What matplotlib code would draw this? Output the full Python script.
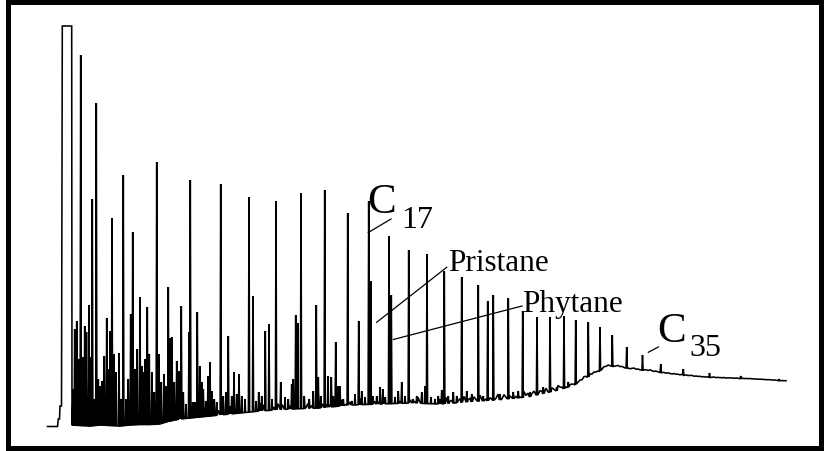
import numpy as np
import matplotlib
matplotlib.use("Agg")
import matplotlib.pyplot as plt
from matplotlib.patches import Rectangle

# ---------------- data (retention time in min, abundance in arbitrary units) ----------------
# solvent front (off-scale, flat-topped)
solvent_rt = [4.75, 5.75, 5.83, 5.95, 6.00, 6.15, 6.23, 7.17, 7.20]
solvent_ab = [0.5, 0.5, 8, 8, 21, 21, 401, 401, 5]

# baseline / unresolved hump
base_rt = [7.22, 8.0, 9.0, 10.0, 11.0, 12.0, 13.0, 14.0, 15.0, 16.0, 17.0, 18.0, 20.0, 23.0,
           26.0, 29.0, 32.0, 35.0, 38.0, 41.0, 44.0, 47.0, 50.0, 53.0, 56.0, 57.5, 59.0, 60.0,
           60.7, 62.0, 63.0, 65.0, 67.0, 69.0, 70.0, 72.0, 75.0, 78.5]
base_ab = [2, 1.5, 1, 2, 1.5, 1, 2, 2.5, 2.5, 3, 6, 8, 10, 13,
           16, 18, 19, 22, 23, 24, 23, 25, 27, 30, 37, 42, 51, 56,
           61, 60, 58, 56, 53, 51, 50, 49, 48, 46]

# baseline noise above the hump, sampled every 0.2 min from 17.0 min
noise_start = 17.0
noise_step = 0.2
noise_amp = [5, 12, 3, 9, 2, 14, 6, 3, 10, 4, 13, 7, 2, 9, 3, 11, 5, 15, 6, 2, 8, 12, 3, 9, 5, 2,
             10, 6, 13, 3, 8, 11, 2, 6, 12, 5, 9, 3, 14, 7, 2, 10, 5, 11, 3, 8, 13, 6, 2, 9, 5, 12,
             3, 10, 6, 15, 5, 2, 9, 11, 3, 8, 5, 12, 6, 3,
             2, 7, 1, 5, 8, 3, 1, 6, 2, 9, 4, 1, 3, 7, 2, 5, 1, 8, 3, 2, 6, 4, 1, 5, 3, 8,
             2, 4, 1, 6, 3, 5, 2, 7, 1, 4, 3, 6, 2, 5, 1, 3, 7, 2, 4, 6, 1, 5, 3, 2, 6, 4,
             1, 7, 3, 5, 2, 4, 6, 1, 3, 5, 2, 7, 4, 1, 6, 3, 2, 5, 4, 1, 6, 3, 2,
             3, 1, 5, 2, 4, 1, 6, 3, 2, 4, 1, 5, 2, 3, 6, 1, 4, 2, 5, 3, 1, 4, 2, 6, 3, 1,
             5, 2, 4, 3, 1, 5, 2, 4, 1, 3, 6, 2, 4, 1, 3, 5, 2, 1, 4, 3, 2, 5, 1, 3, 4, 2,
             1, 5, 3, 2, 4, 1, 3, 2,
             2, 1, 3, 1, 2, 1, 3, 2, 1, 2, 1, 2, 1, 1, 2,
             0.5, 1.5, 0.3, 1.0, 0.6, 1.2, 0.2, 0.8, 1.4, 0.4, 1.0, 0.3, 1.2, 0.6, 0.2, 0.9,
             1.3, 0.4, 0.8, 0.2, 1.1, 0.5, 0.9, 0.3, 1.2, 0.6, 0.2, 0.8, 0.4, 1.0, 0.3, 0.7,
             0.2, 0.9, 0.5, 0.3, 0.8, 0.4, 0.6, 0.2, 0.9, 0.4, 0.7, 0.3, 0.5, 0.8, 0.2, 0.6,
             0.4, 0.7, 0.3, 0.5, 0.2, 0.6, 0.4, 0.3, 0.7, 0.2, 0.5, 0.4, 0.3, 0.6, 0.2, 0.4,
             0.5, 0.3, 0.2, 0.5, 0.4, 0.3, 0.6, 0.2, 0.4, 0.3, 0.5, 0.2, 0.4, 0.3, 0.2, 0.5,
             0.3, 0.4, 0.2, 0.3, 0.5, 0.2, 0.4, 0.3, 0.2, 0.4, 0.3, 0.2, 0.3]

# resolved peaks
peak_rt = [7.30, 7.47, 7.67, 7.87, 8.07, 8.27, 8.47, 8.65, 8.90, 9.07, 9.23, 9.43, 9.63, 9.83,
           10.03, 10.23, 10.43, 10.67, 10.87, 11.03, 11.20, 11.40, 11.60, 11.90, 12.10, 12.33,
           12.60, 12.83, 13.07, 13.27, 13.50, 13.73, 14.00, 14.17, 14.33, 14.53, 14.73, 14.93,
           15.20, 15.43, 15.67, 15.87, 16.13, 16.40, 16.60, 16.83, 17.03, 17.20, 17.43, 17.67,
           17.87, 18.13, 18.33, 18.60, 18.90, 19.03, 19.27, 19.50, 19.73, 19.97, 20.17, 20.33,
           20.57, 20.80, 21.00, 21.20, 21.43, 21.67, 22.07, 22.33, 22.60, 22.83, 23.17, 23.40,
           23.67, 23.90, 24.17, 24.50, 24.90, 25.30, 25.60, 25.87, 26.17, 26.53, 26.90, 27.20,
           27.60, 28.07, 28.50, 28.83, 29.17, 29.33, 29.57, 29.77, 30.10, 30.43, 30.93, 31.33,
           31.63, 31.83, 32.07, 32.47, 32.80, 33.13, 33.33, 33.57, 33.77, 34.00, 34.33, 34.77,
           35.17, 35.50, 35.87, 36.17, 36.50, 36.87, 37.07, 37.27, 37.67, 38.00, 38.27, 38.53,
           38.90, 39.13, 39.50, 39.83, 40.17, 40.50, 40.87, 41.27, 41.67, 42.17, 42.50, 42.70,
           43.10, 43.50, 43.83, 44.17, 44.43, 44.83, 45.33, 45.67, 46.17, 46.67, 47.17, 47.83,
           48.33, 48.77, 49.33, 50.00, 50.83, 51.33, 51.83, 52.27, 53.00, 53.70, 54.33, 55.00,
           55.67, 56.40, 56.83, 57.57, 58.83, 60.00, 61.23, 62.67, 64.25, 66.07, 68.33, 70.95,
           74.07, 77.90]
peak_ab = [38, 98, 106, 68, 372, 70, 101, 95, 122, 70, 228, 28, 324, 48,
           41, 46, 71, 109, 58, 96, 209, 73, 55, 74, 28, 252,
           28, 48, 113, 195, 58, 78, 130, 61, 55, 68, 120, 73,
           55, 35, 265, 73, 45, 53, 41, 140, 89, 90, 45, 66,
           56, 121, 35, 23, 95, 247, 25, 25, 115, 61, 45, 38,
           26, 51, 65, 36, 28, 25, 243, 31, 35, 91, 31, 55,
           33, 53, 31, 28, 230, 131, 26, 35, 31, 96, 103, 28,
           226, 45, 30, 28, 43, 48, 112, 104, 234, 31, 28, 36,
           122, 50, 31, 237, 51, 50, 31, 85, 41, 41, 28, 214,
           26, 33, 106, 36, 30, 226, 146, 31, 31, 40, 38, 30,
           191, 132, 30, 36, 45, 31, 177, 28, 31, 35, 41, 173,
           30, 28, 31, 37, 156, 31, 35, 31, 150, 36, 33, 142,
           31, 126, 132, 33, 129, 35, 36, 116, 35, 110, 40, 110,
           40, 111, 45, 107, 105, 100, 92, 80, 72, 63, 58, 54,
           51, 48]

# annotations
label_main = ["C", "C", "Pristane", "Phytane"]
label_sub = ["17", "35"]

# ---------------- build trace ----------------
w = 0.06
peak_rt_a = np.array(peak_rt)
peak_ab_a = np.array(peak_ab)
order = np.argsort(peak_rt_a)
pts = []
for x, a in zip(peak_rt_a[order], peak_ab_a[order]):
    pts.append((x - w, np.interp(x - w, base_rt, base_ab)))
    pts.append((x, a))
    pts.append((x + w, np.interp(x + w, base_rt, base_ab)))

noise_rt = noise_start + noise_step * np.arange(len(noise_amp))
noise_end = noise_rt[-1]
for x, a in zip(noise_rt, noise_amp):
    if np.all(np.abs(peak_rt_a - x) > w + 0.05):
        pts.append((x, np.interp(x, base_rt, base_ab) + a))
for x, a in zip(base_rt, base_ab):
    if (x < noise_start or x > noise_end) and np.all(np.abs(peak_rt_a - x) > w):
        pts.append((x, a))
pts.sort(key=lambda p: p[0])
trace_x = list(solvent_rt) + [p[0] for p in pts]
trace_y = list(solvent_ab) + [p[1] for p in pts]

# ---------------- figure ----------------
fig = plt.figure(figsize=(8.25, 4.52), dpi=100)
ax = fig.add_axes([0, 0, 1, 1])
ax.set_xlim(0, 82.5)
ax.set_ylim(-24, 428)
ax.axis("off")

ax.plot(trace_x, trace_y, color="black", lw=1.15, solid_joinstyle="miter")

serif = ["Liberation Serif", "DejaVu Serif"]
big = 31
small = 23
lab = 22.5
ax.text(36.70, 214.5, label_main[0], family=serif, fontsize=big, va="baseline", ha="left")
ax.text(40.10, 199.7, label_sub[0], family=serif, fontsize=small, va="baseline", ha="left")
ax.text(65.70, 86.0, label_main[1], family=serif, fontsize=big, va="baseline", ha="left")
ax.text(68.95, 71.5, label_sub[1], family=serif, fontsize=small, va="baseline", ha="left")
ax.text(44.80, 157.0, label_main[2], family=serif, fontsize=lab, va="baseline", ha="left")
ax.text(52.20, 116.0, label_main[3], family=serif, fontsize=lab, va="baseline", ha="left")

lk = dict(color="black", lw=0.9)
ax.plot([36.83, 39.1], [194.5, 208], **lk)
ax.plot([37.67, 44.67], [104.7, 159.7], **lk)
ax.plot([39.33, 52.2], [87.5, 121], **lk)
ax.plot([64.83, 65.83], [74.7, 80], **lk)

fig.patches.append(Rectangle((7.5 / 825, 2.6 / 452), 813 / 825, 446.5 / 452,
                             transform=fig.transFigure, fill=False,
                             edgecolor="black", lw=3.6))

fig.savefig("out.png", dpi=100, facecolor="white")
